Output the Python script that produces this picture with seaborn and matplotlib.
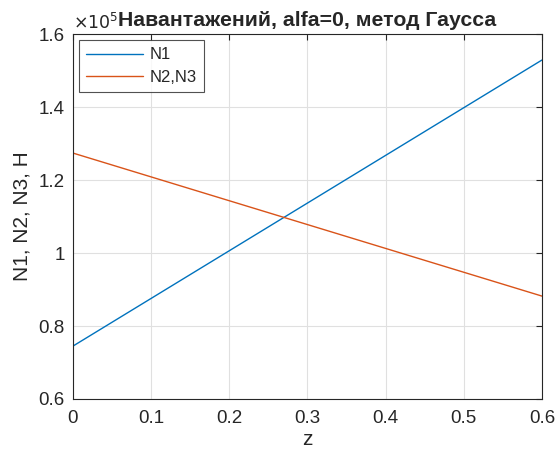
import matplotlib
matplotlib.use("Agg")
import matplotlib.pyplot as plt
import seaborn as sns
import pandas as pd

z = [0.0, 0.6]
n1 = [0.745e5, 1.529e5]
n23 = [1.274e5, 0.882e5]
series_names = ["N1", "N2,N3"]
x_ticks = [0, 0.1, 0.2, 0.3, 0.4, 0.5, 0.6]
y_ticks = [0.6, 0.8, 1.0, 1.2, 1.4, 1.6]
y_tick_labels = ["0.6", "0.8", "1", "1.2", "1.4", "1.6"]
scale = 1e5

sns.set_style("white")
plt.rcParams['font.family'] = ['Liberation Sans', 'DejaVu Sans']

df = pd.DataFrame({
    "z": z * 2,
    "val": [v / scale for v in n1] + [v / scale for v in n23],
    "series": [series_names[0]] * len(z) + [series_names[1]] * len(z),
})

fig = plt.figure(figsize=(5.57, 4.61), dpi=100)
ax = fig.add_axes([0.131, 0.1345, 0.842, 0.7915])
sns.lineplot(data=df, x="z", y="val", hue="series",
             palette=["#0072BD", "#D95319"], linewidth=1.0, ax=ax)

ax.set_xlim(0, 0.6)
ax.set_ylim(0.6, 1.6)
ax.set_xticks(x_ticks)
ax.set_xticklabels([("%g" % t) for t in x_ticks])
ax.set_yticks(y_ticks)
ax.set_yticklabels(y_tick_labels)
ax.tick_params(direction="in", length=4, labelsize=13.5, colors="#262626", top=True, right=True)
ax.tick_params(axis="x", pad=8)
ax.tick_params(axis="y", pad=6)
ax.grid(True, color="#e0e0e0", linewidth=0.8)
for s in ax.spines.values():
    s.set_color("#262626")
    s.set_linewidth(0.8)
ax.set_xlabel("z", fontsize=15, color="#262626", labelpad=2)
ax.set_ylabel("N1, N2, N3, H", fontsize=15, color="#262626", labelpad=5)
ax.set_title("Навантажений, alfa=0, метод Гаусса", fontsize=15.3, fontweight="bold", pad=6, x=0.5)
ax.text(0.0, 1.005, r"$\times10^5$", transform=ax.transAxes, fontsize=12.5, color="#262626",
        va="bottom", ha="left")
leg = ax.legend(loc="upper left", fontsize=12, frameon=True, fancybox=False,
                edgecolor="#262626", borderaxespad=0.35, handlelength=3.4,
                handletextpad=0.4, labelspacing=0.45, borderpad=0.45)
leg.get_frame().set_linewidth(0.8)
leg.set_title(None)

fig.savefig("out.png", dpi=100)
